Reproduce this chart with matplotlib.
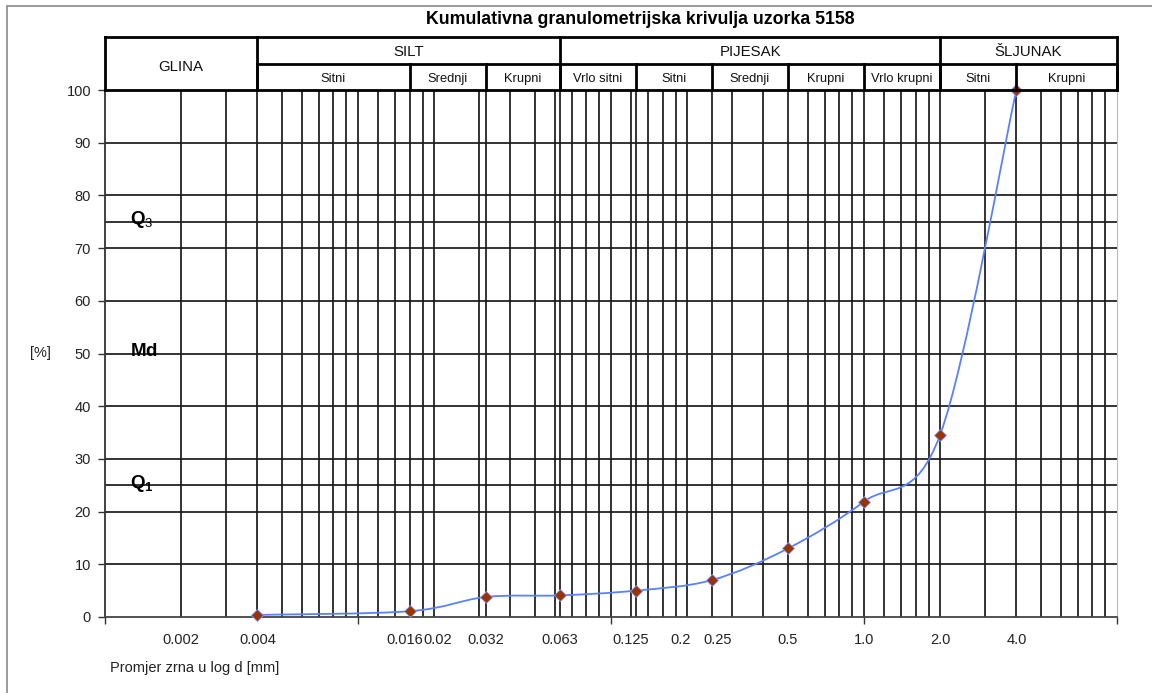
import numpy as np
import matplotlib
matplotlib.use("Agg")
import matplotlib.pyplot as plt
import matplotlib.transforms as mtransforms
from matplotlib.path import Path
from matplotlib.patches import PathPatch, Rectangle
from matplotlib.ticker import FixedLocator, NullFormatter

plt.rcParams['font.family'] = ['Liberation Sans', 'DejaVu Sans']
plt.rcParams['mathtext.fontset'] = 'custom'
plt.rcParams['mathtext.rm'] = 'Liberation Sans'
plt.rcParams['mathtext.bf'] = 'Liberation Sans:bold'

# ---- data ----
grain_mm = [0.004, 0.016, 0.032, 0.063, 0.125, 0.25, 0.5, 1.0, 2.0, 4.0]
cum_pct = [0.4, 1.1, 3.8, 4.1, 5.0, 7.0, 13.0, 21.9, 34.6, 100.0]

xtick_vals = [0.002, 0.004, 0.016, 0.02, 0.032, 0.063, 0.125, 0.2, 0.25, 0.5, 1.0, 2.0, 4.0]
xtick_labels = ['0.002', '0.004', '0.016', '0.02', '0.032', '0.063', '0.125', '0.2', '0.25',
                '0.5', '1.0', '2.0', '4.0']
decade_ticks = [0.001, 0.01, 0.1, 1.0, 10.0]
grid_x = [0.002, 0.003, 0.004, 0.005, 0.006, 0.007, 0.008, 0.009,
          0.01, 0.012, 0.014, 0.016, 0.018, 0.02, 0.03, 0.032, 0.04, 0.05, 0.06, 0.063,
          0.07, 0.08, 0.09,
          0.1, 0.12, 0.125, 0.14, 0.16, 0.18, 0.2, 0.25, 0.3, 0.4, 0.5, 0.6, 0.7, 0.8, 0.9,
          1.0, 1.2, 1.4, 1.6, 1.8, 2.0, 3.0, 4.0, 5.0, 6.0, 7.0, 8.0, 9.0]
grid_y = [10, 20, 25, 30, 40, 50, 60, 70, 75, 80, 90, 100]
yticks = list(range(0, 101, 10))

main_classes = ['GLINA', 'SILT', 'PIJESAK', 'ŠLJUNAK']
main_bounds = [0.001, 0.004, 0.063, 2.0, 10.0]
sub_classes = ['Sitni', 'Srednji', 'Krupni', 'Vrlo sitni', 'Sitni', 'Srednji', 'Krupni',
               'Vrlo krupni', 'Sitni', 'Krupni']
sub_bounds = [0.004, 0.016, 0.032, 0.063, 0.125, 0.25, 0.5, 1.0, 2.0, 4.0, 10.0]

quartile_levels = [75, 50, 25]
quartile_texts = [r'$\mathbf{Q}_{3}$', r'$\mathbf{Md}$', r'$\mathbf{Q}_{\mathbf{1}}$']

# small horizontal nudges (in pixels) of some x labels, as in the reference layout
label_nudge_px = {'0.016': -5, '0.02': 4, '0.125': -5, '0.2': -7, '0.25': 6}

W, H = 1152, 693
fig = plt.figure(figsize=(W / 100, H / 100), dpi=100)

L, R, T, B = 105, 1117, 90, 617
ax = fig.add_axes([L / W, 1 - B / H, (R - L) / W, (B - T) / H])
ax.set_xscale('log')
ax.set_xlim(0.001, 10)
ax.set_ylim(0, 100)

# grid
for gx in grid_x:
    ax.axvline(gx, color='#1a1a1a', lw=1.25, zorder=1)
for gy in grid_y:
    ax.axhline(gy, color='#1a1a1a', lw=1.25, zorder=1)

# smooth curve (Catmull-Rom Bezier in log-x space, like a smoothed spreadsheet line)
lx = np.log10(np.array(grain_mm))
yy = np.array(cum_pct)
n = len(lx)
verts = [(grain_mm[0], cum_pct[0])]
codes = [Path.MOVETO]
for i in range(n - 1):
    p0 = np.array([lx[max(i - 1, 0)], yy[max(i - 1, 0)]])
    p1 = np.array([lx[i], yy[i]])
    p2 = np.array([lx[i + 1], yy[i + 1]])
    p3 = np.array([lx[min(i + 2, n - 1)], yy[min(i + 2, n - 1)]])
    c1 = p1 + (p2 - p0) / 6.0
    c2 = p2 - (p3 - p1) / 6.0
    for c in (c1, c2, p2):
        verts.append((10 ** c[0], c[1]))
        codes.append(Path.CURVE4)
curve = PathPatch(Path(verts, codes), facecolor='none', edgecolor='#5b80ff', lw=1.3, zorder=3)
ax.add_patch(curve)
ax.plot(grain_mm, cum_pct, linestyle='none', marker='D', markersize=6,
        markerfacecolor='#993300', markeredgecolor='#7f9cff', markeredgewidth=0.6, zorder=4,
        clip_on=False)

# spines
ax.spines['top'].set_visible(False)
ax.spines['right'].set_color('#bbbbbb')
ax.spines['left'].set_color('#333333')
ax.spines['bottom'].set_color('#444444')
ax.spines['left'].set_linewidth(1.3)
ax.spines['bottom'].set_linewidth(1.3)

# ticks
ax.xaxis.set_major_locator(FixedLocator(decade_ticks))
ax.xaxis.set_major_formatter(NullFormatter())
ax.xaxis.set_minor_locator(FixedLocator([]))
ax.tick_params(axis='x', which='major', length=5, width=1, color='#333333', direction='out')
ax.set_yticks(yticks)
ax.tick_params(axis='y', length=5, width=1, color='#333333', pad=5, labelsize=10.5,
               labelcolor='#222222')

xlab_tr = mtransforms.blended_transform_factory(ax.transData, ax.transAxes)
for v, lab in zip(xtick_vals, xtick_labels):
    dx = label_nudge_px.get(lab, 0)
    tr = xlab_tr + mtransforms.ScaledTranslation(dx / 100, 0, fig.dpi_scale_trans)
    ax.text(v, -23 / (B - T), lab, transform=tr, ha='center', va='center', fontsize=10.5,
            color='#222222', clip_on=False)

# quartile labels
qtr = mtransforms.blended_transform_factory(ax.transAxes, ax.transData)
for qy, qt in zip(quartile_levels, quartile_texts):
    ax.text(25 / (R - L), qy - 0.5, qt, transform=qtr, fontsize=13.5, ha='left',
            va='baseline', zorder=5)

fig.text(40 / W, 1 - 353 / H, '[%]', fontsize=10.5, ha='center', va='center', color='#222222')
fig.text(110 / W, 1 - 668 / H, 'Promjer zrna u log d [mm]', fontsize=10.5, ha='left',
         va='center', color='#222222')
fig.text(640 / W, 1 - 20 / H, 'Kumulativna granulometrijska krivulja uzorka 5158',
         fontsize=12.8, fontweight='bold', ha='center', va='center')

# header table
HT = 37
hax = fig.add_axes([L / W, 1 - T / H, (R - L) / W, (T - HT) / H])
hax.set_xscale('log')
hax.set_xlim(0.001, 10)
hax.set_ylim(0, 2)
hax.axis('off')
lw_h = 2.0
hax.plot([0.001, 10], [2, 2], color='black', lw=lw_h, clip_on=False, solid_capstyle='projecting')
hax.plot([0.001, 10], [0, 0], color='black', lw=lw_h, clip_on=False)
hax.plot([0.004, 10], [1, 1], color='black', lw=lw_h, clip_on=False)
for bx in main_bounds:
    hax.plot([bx, bx], [0, 2], color='black', lw=lw_h, clip_on=False, solid_capstyle='projecting')
for bx in sub_bounds:
    hax.plot([bx, bx], [0, 1], color='black', lw=lw_h, clip_on=False)
for i, name in enumerate(main_classes):
    cx = np.sqrt(main_bounds[i] * main_bounds[i + 1])
    cy = 0.85 if i == 0 else 1.42
    hax.text(cx, cy, name, ha='center', va='center', fontsize=10.8, color='#111111')
for i, name in enumerate(sub_classes):
    cx = np.sqrt(sub_bounds[i] * sub_bounds[i + 1])
    hax.text(cx, 0.4, name, ha='center', va='center', fontsize=9.3, color='#111111')

# outer chart frame
fig.patches.append(Rectangle((7 / W, -0.05), 1.2, (H - 6) / H + 0.05, transform=fig.transFigure,
                             fill=False, edgecolor='#8a8a8a', lw=1.2))

fig.savefig('out.png', dpi=100)
